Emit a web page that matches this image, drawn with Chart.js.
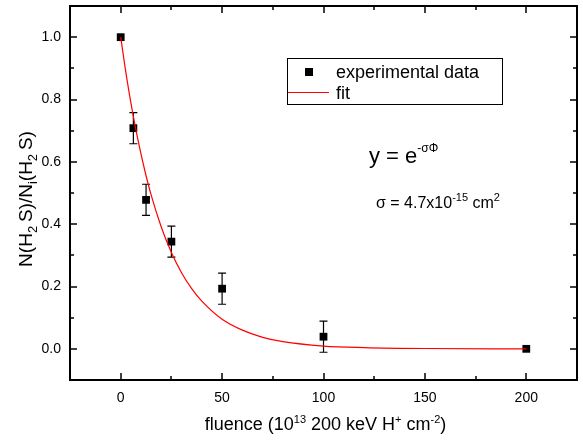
<!DOCTYPE html>
<html>
<head>
<meta charset="utf-8">
<script src="https://cdn.jsdelivr.net/npm/chart.js@4.4.1/dist/chart.umd.min.js"></script>
<style>
  html, body { margin: 0; padding: 0; background: #fff; }
  #wrap { width: 583px; height: 441px; }
</style>
</head>
<body>
<div id="wrap"><canvas id="chart"></canvas></div>
<script>
// measured points (fluence in 10^13 H+/cm2)
var fluence = [0, 6.25, 12.5, 25, 50, 100, 200];
var ratio = [1.0, 0.708, 0.478, 0.344, 0.193, 0.039, 0.0];
var ratioErr = [0, 0.05, 0.05, 0.05, 0.05, 0.05, 0];

// fit curve
var fitX = [0, 3, 6, 9, 12, 15, 20, 25, 30, 35, 40, 50, 60, 70, 80, 100, 120, 150, 200];
var fitY = [1.0, 0.868, 0.754, 0.655, 0.569, 0.494, 0.391, 0.309, 0.244, 0.193, 0.153, 0.095, 0.060, 0.037, 0.023, 0.009, 0.004, 0.001, 0.0];

var xTicks = [0, 50, 100, 150, 200];
var xMinor = [25, 75, 125, 175];
var yTicks = [0, 0.2, 0.4, 0.6, 0.8, 1.0];
var yMinor = [0.1, 0.3, 0.5, 0.7, 0.9];

var FONT = "'Liberation Sans', Arial, sans-serif";

var points = fluence.map(function (f, i) { return { x: f, y: ratio[i] }; });
var fitPts = fitX.map(function (f, i) { return { x: f, y: fitY[i] }; });

// draw text made of pieces with sub/superscripts
function richWidth(ctx, parts) {
  var w = 0;
  parts.forEach(function (p) {
    ctx.font = p[1] + "px " + FONT;
    w += ctx.measureText(p[0]).width;
  });
  return w;
}
function drawRich(ctx, parts, x, y) {
  parts.forEach(function (p) {
    ctx.font = p[1] + "px " + FONT;
    ctx.fillText(p[0], x, y + (p[2] || 0));
    x += ctx.measureText(p[0]).width;
  });
}

var frame = {
  id: 'frame',
  beforeDatasetsDraw: function (chart) {
    // error bars
    var ctx = chart.ctx, xs = chart.scales.x, ys = chart.scales.y;
    ctx.save();
    ctx.strokeStyle = '#000';
    ctx.lineWidth = 1.2;
    fluence.forEach(function (f, i) {
      if (!ratioErr[i]) return;
      var px = xs.getPixelForValue(f);
      var top = ys.getPixelForValue(ratio[i] + ratioErr[i]);
      var bot = ys.getPixelForValue(ratio[i] - ratioErr[i]);
      ctx.beginPath();
      ctx.moveTo(px, top); ctx.lineTo(px, bot);
      ctx.moveTo(px - 4, top); ctx.lineTo(px + 4, top);
      ctx.moveTo(px - 4, bot); ctx.lineTo(px + 4, bot);
      ctx.stroke();
    });
    ctx.restore();
  },
  afterDraw: function (chart) {
    var ctx = chart.ctx, a = chart.chartArea;
    var xs = chart.scales.x, ys = chart.scales.y;
    ctx.save();
    ctx.strokeStyle = '#000';
    ctx.lineWidth = 2;
    ctx.strokeRect(a.left, a.top, a.right - a.left, a.bottom - a.top);

    // inward ticks on all four sides
    ctx.lineWidth = 1.5;
    ctx.beginPath();
    function xt(v, len) {
      var px = Math.round(xs.getPixelForValue(v));
      ctx.moveTo(px, a.bottom); ctx.lineTo(px, a.bottom - len);
      ctx.moveTo(px, a.top); ctx.lineTo(px, a.top + len);
    }
    function yt(v, len) {
      var py = Math.round(ys.getPixelForValue(v));
      ctx.moveTo(a.left, py); ctx.lineTo(a.left + len, py);
      ctx.moveTo(a.right, py); ctx.lineTo(a.right - len, py);
    }
    xTicks.forEach(function (v) { xt(v, 7); });
    xMinor.forEach(function (v) { xt(v, 4); });
    yTicks.forEach(function (v) { yt(v, 7); });
    yMinor.forEach(function (v) { yt(v, 4); });
    ctx.stroke();

    ctx.fillStyle = '#000';
    ctx.textBaseline = 'alphabetic';
    ctx.textAlign = 'left';

    // x title
    var xt_parts = [["fluence (10", 18], ["13", 11, -7], [" 200 keV H", 18], ["+", 11, -7], [" cm", 18], ["-2", 11, -7], [")", 18]];
    var w = richWidth(ctx, xt_parts);
    drawRich(ctx, xt_parts, (a.left + a.right) / 2 - w / 2 + 2, 430);

    // y title
    var yt_parts = [["N(H", 19], ["2", 13, 5], ["\u2009S)/N", 19], ["i", 13, 5], ["(H", 19], ["2", 13, 5], ["\u2009S)", 19]];
    ctx.save();
    ctx.translate(32, 199);
    ctx.rotate(-Math.PI / 2);
    w = richWidth(ctx, yt_parts);
    drawRich(ctx, yt_parts, -w / 2, 0);
    ctx.restore();

    // legend
    ctx.lineWidth = 1;
    ctx.strokeStyle = '#000';
    ctx.strokeRect(287.5, 58.5, 215, 46);
    ctx.fillRect(305, 68, 8, 8);
    ctx.strokeStyle = '#ff0000';
    ctx.beginPath();
    ctx.moveTo(288, 92.5); ctx.lineTo(329, 92.5);
    ctx.stroke();
    ctx.font = "18px " + FONT;
    ctx.fillText("experimental data", 336, 78);
    ctx.fillText("fit", 336, 99);

    // fit equation
    drawRich(ctx, [["y = e", 22], ["-\u03C3\u03A6", 12, -11]], 369, 163);
    drawRich(ctx, [["\u03C3 = 4.7x10", 16], ["-15", 11, -7], [" cm", 16], ["2", 11, -7]], 376, 208);
    ctx.restore();
  }
};

new Chart(document.getElementById("chart"), {
  type: 'scatter',
  data: {
    datasets: [{
      label: "fit",
      type: 'line',
      data: fitPts,
      borderColor: '#ff0000',
      borderWidth: 1.2,
      pointRadius: 0,
      fill: false,
      cubicInterpolationMode: 'monotone'
    }, {
      label: "experimental data",
      data: points,
      pointStyle: 'rect',
      pointRadius: 5.5,
      backgroundColor: '#000',
      borderColor: '#000',
      borderWidth: 0
    }]
  },
  options: {
    responsive: true,
    maintainAspectRatio: false,
    animation: false,
    layout: { padding: { top: 6, right: 6, left: 0, bottom: 0 } },
    plugins: {
      legend: { display: false },
      tooltip: { enabled: false }
    },
    scales: {
      x: {
        type: 'linear',
        min: -25,
        max: 225,
        grid: { display: false, drawTicks: false, tickLength: 0 },
        border: { display: false },
        ticks: {
          padding: 10,
          color: '#000',
          font: { family: FONT, size: 14 },
          callback: function (v) { return v; }
        },
        afterBuildTicks: function (scale) {
          scale.ticks = xTicks.map(function (v) { return { value: v }; });
        },
        afterFit: function (scale) {
          scale.height = 61;
          scale.paddingLeft = 0; scale.paddingRight = 0;
        }
      },
      y: {
        type: 'linear',
        min: -0.1,
        max: 1.1,
        grid: { display: false, drawTicks: false, tickLength: 0 },
        border: { display: false },
        ticks: {
          padding: 9,
          color: '#000',
          font: { family: FONT, size: 14 },
          callback: function (v) { return v.toFixed(1); }
        },
        afterBuildTicks: function (scale) {
          scale.ticks = yTicks.map(function (v) { return { value: v }; });
        },
        afterFit: function (scale) {
          scale.width = 70;
          scale.paddingTop = 0; scale.paddingBottom = 0;
        }
      }
    }
  },
  plugins: [frame]
});
</script>
</body>
</html>
